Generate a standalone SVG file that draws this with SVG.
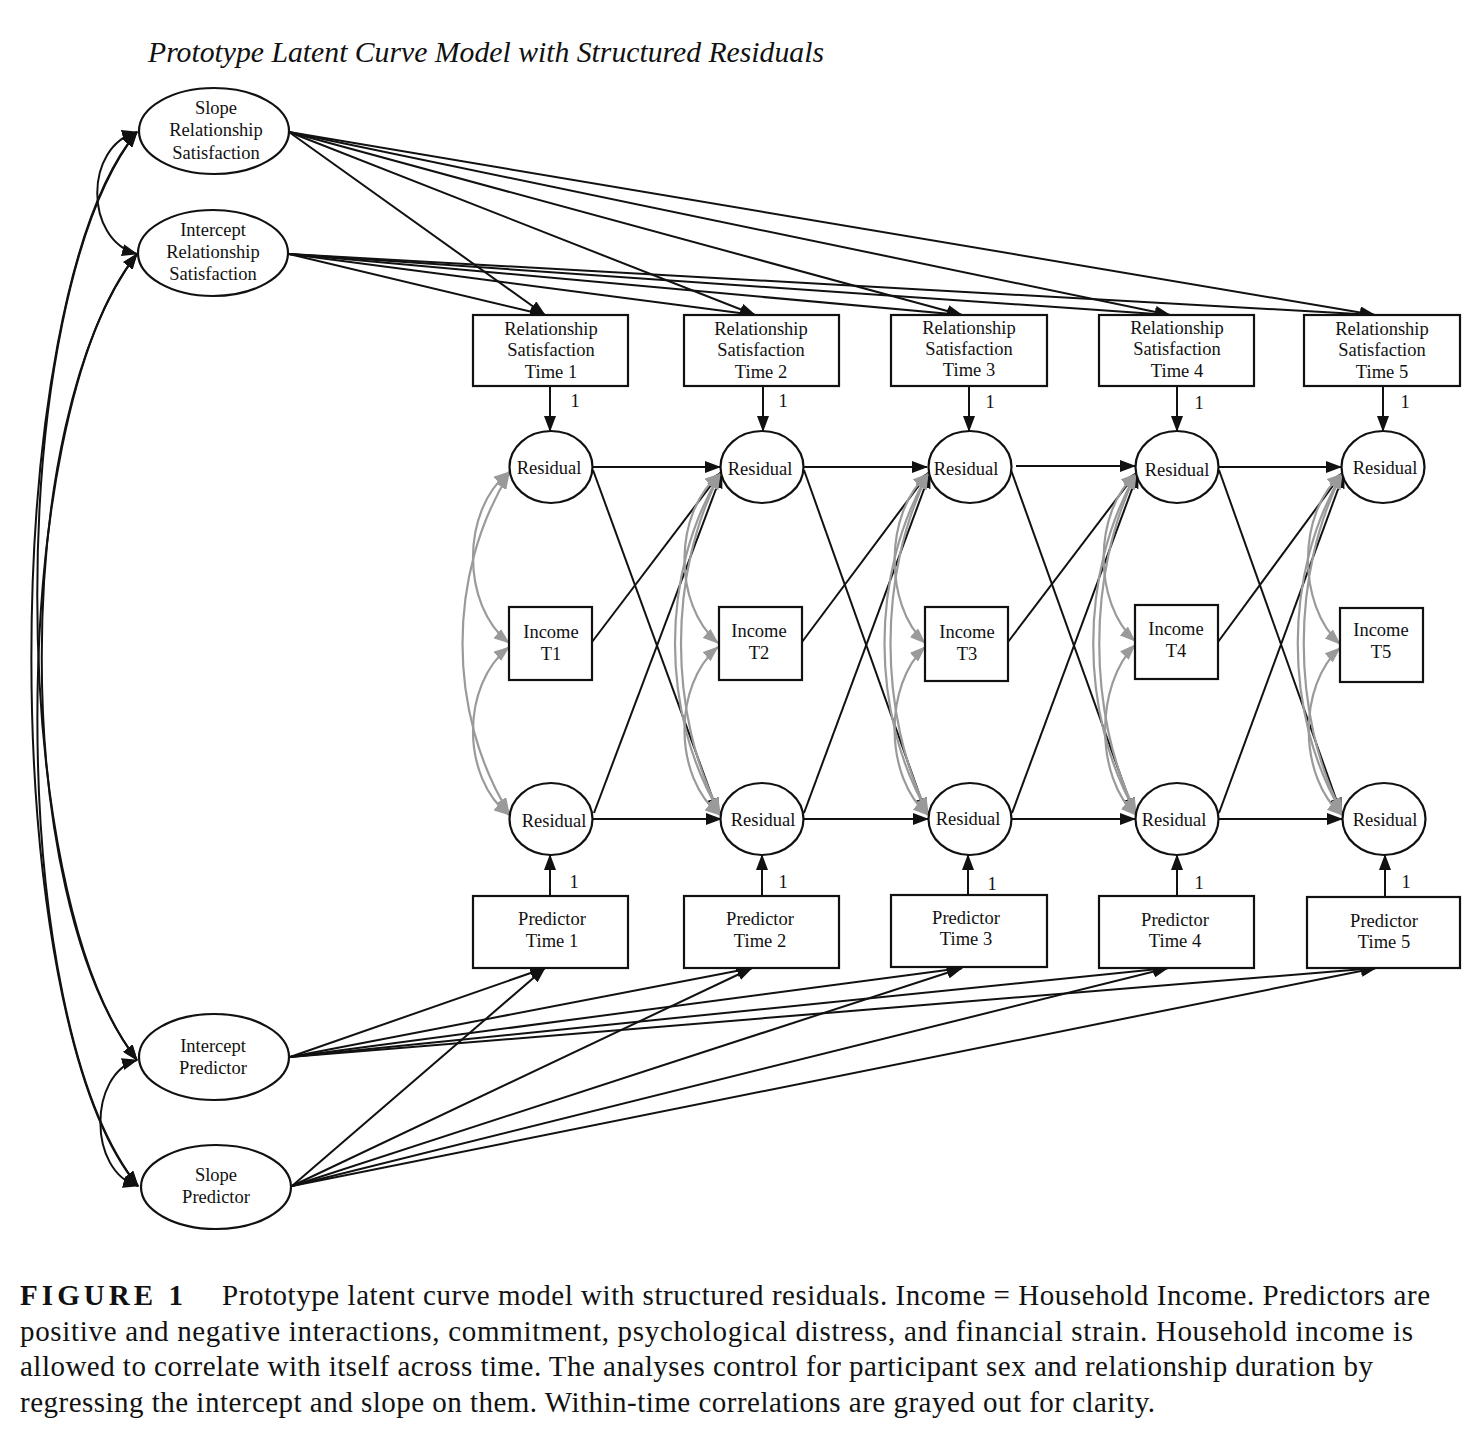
<svg xmlns="http://www.w3.org/2000/svg" width="1476" height="1434" viewBox="0 0 1476 1434">
<style>
  .t { font-family: "Liberation Serif", "Times New Roman", serif; font-size: 18.5px; fill: #111; text-anchor: middle; }
  .n { fill: #fff; stroke: #111; stroke-width: 2.2; }
  .c { fill: none; stroke: #111; stroke-width: 2; }
  .g { fill: none; stroke: #9a9a9a; stroke-width: 2.2; }
  .cap { font-family: "Liberation Serif", "Times New Roman", serif; font-size: 29px; fill: #111; }
</style>
<defs>
  <marker id="ab" markerUnits="userSpaceOnUse" markerWidth="16" markerHeight="12" refX="15" refY="6" orient="auto-start-reverse">
    <path d="M0,0 L16,6 L0,12 z" fill="#111"/>
  </marker>
  <marker id="ag" markerUnits="userSpaceOnUse" markerWidth="16" markerHeight="12" refX="15" refY="6" orient="auto-start-reverse">
    <path d="M0,0 L16,6 L0,12 z" fill="#9a9a9a"/>
  </marker>
</defs>
<rect width="1476" height="1434" fill="#fff"/>

<text x="148" y="62" font-family="Liberation Serif, Times New Roman, serif" font-style="italic" font-size="28.5" fill="#111" textLength="676" lengthAdjust="spacingAndGlyphs">Prototype Latent Curve Model with Structured Residuals</text>

<g id="connectors">
  <!-- growth factor covariances (left) -->
  <path class="c" d="M137,132 C84,146 84,240 137,254" marker-start="url(#ab)" marker-end="url(#ab)"/>
  <path class="c" d="M137,1060 C88,1074 88,1172 138,1186" marker-start="url(#ab)" marker-end="url(#ab)"/>
  <path class="c" d="M137,132 C-4,300 -4,1018 138,1186" marker-start="url(#ab)" marker-end="url(#ab)"/>
  <path class="c" d="M137,132 C4,300 4,890 137,1060" marker-start="url(#ab)" marker-end="url(#ab)"/>
  <path class="c" d="M137,254 C10,420 10,895 137,1060" marker-start="url(#ab)" marker-end="url(#ab)"/>
  <path class="c" d="M137,254 C4,420 4,1020 138,1186" marker-start="url(#ab)" marker-end="url(#ab)"/>

  <!-- slope RS loadings -->
  <line class="c" x1="289" y1="132" x2="545" y2="315" marker-end="url(#ab)"/>
  <line class="c" x1="289" y1="132" x2="755" y2="315" marker-end="url(#ab)"/>
  <line class="c" x1="289" y1="132" x2="962" y2="315" marker-end="url(#ab)"/>
  <line class="c" x1="289" y1="132" x2="1170" y2="315" marker-end="url(#ab)"/>
  <line class="c" x1="289" y1="132" x2="1375" y2="315" marker-end="url(#ab)"/>
  <!-- intercept RS loadings -->
  <line class="c" x1="289" y1="254" x2="545" y2="315" marker-end="url(#ab)"/>
  <line class="c" x1="289" y1="254" x2="755" y2="315" marker-end="url(#ab)"/>
  <line class="c" x1="289" y1="254" x2="962" y2="315" marker-end="url(#ab)"/>
  <line class="c" x1="289" y1="254" x2="1170" y2="315" marker-end="url(#ab)"/>
  <line class="c" x1="289" y1="254" x2="1375" y2="315" marker-end="url(#ab)"/>

  <!-- intercept predictor loadings -->
  <line class="c" x1="290" y1="1057" x2="545" y2="968" marker-end="url(#ab)"/>
  <line class="c" x1="290" y1="1057" x2="752" y2="968" marker-end="url(#ab)"/>
  <line class="c" x1="290" y1="1057" x2="962" y2="968" marker-end="url(#ab)"/>
  <line class="c" x1="290" y1="1057" x2="1168" y2="968" marker-end="url(#ab)"/>
  <line class="c" x1="290" y1="1057" x2="1376" y2="968" marker-end="url(#ab)"/>
  <!-- slope predictor loadings -->
  <line class="c" x1="292" y1="1186" x2="545" y2="968" marker-end="url(#ab)"/>
  <line class="c" x1="292" y1="1186" x2="752" y2="968" marker-end="url(#ab)"/>
  <line class="c" x1="292" y1="1186" x2="962" y2="968" marker-end="url(#ab)"/>
  <line class="c" x1="292" y1="1186" x2="1168" y2="968" marker-end="url(#ab)"/>
  <line class="c" x1="292" y1="1186" x2="1376" y2="968" marker-end="url(#ab)"/>

  <!-- fixed loadings to residuals -->
  <line class="c" x1="550" y1="386" x2="550" y2="431" marker-end="url(#ab)"/>
  <line class="c" x1="763" y1="386" x2="763" y2="431" marker-end="url(#ab)"/>
  <line class="c" x1="969" y1="386" x2="969" y2="431" marker-end="url(#ab)"/>
  <line class="c" x1="1177" y1="386" x2="1177" y2="431" marker-end="url(#ab)"/>
  <line class="c" x1="1383" y1="386" x2="1383" y2="431" marker-end="url(#ab)"/>
  <line class="c" x1="550" y1="896" x2="550" y2="855" marker-end="url(#ab)"/>
  <line class="c" x1="762" y1="896" x2="762" y2="855" marker-end="url(#ab)"/>
  <line class="c" x1="968" y1="895" x2="968" y2="855" marker-end="url(#ab)"/>
  <line class="c" x1="1177" y1="896" x2="1177" y2="855" marker-end="url(#ab)"/>
  <line class="c" x1="1385" y1="897" x2="1385" y2="855" marker-end="url(#ab)"/>

  <!-- autoregressive paths -->
  <line class="c" x1="593" y1="467" x2="720" y2="467" marker-end="url(#ab)"/>
  <line class="c" x1="804" y1="467" x2="927" y2="467" marker-end="url(#ab)"/>
  <line class="c" x1="1016" y1="466" x2="1135" y2="466" marker-end="url(#ab)"/>
  <line class="c" x1="1219" y1="467" x2="1341" y2="467" marker-end="url(#ab)"/>
  <line class="c" x1="593" y1="819" x2="721" y2="819" marker-end="url(#ab)"/>
  <line class="c" x1="804" y1="819" x2="928" y2="819" marker-end="url(#ab)"/>
  <line class="c" x1="1011" y1="819" x2="1135" y2="819" marker-end="url(#ab)"/>
  <line class="c" x1="1219" y1="819" x2="1342" y2="819" marker-end="url(#ab)"/>

  <!-- cross-lagged paths -->
  <line class="c" x1="593" y1="470" x2="718" y2="813" marker-end="url(#ab)"/>
  <line class="c" x1="804" y1="470" x2="926" y2="813" marker-end="url(#ab)"/>
  <line class="c" x1="1011" y1="470" x2="1134" y2="813" marker-end="url(#ab)"/>
  <line class="c" x1="1219" y1="470" x2="1341" y2="813" marker-end="url(#ab)"/>
  <line class="c" x1="594" y1="813" x2="722" y2="473" marker-end="url(#ab)"/>
  <line class="c" x1="804" y1="813" x2="930" y2="473" marker-end="url(#ab)"/>
  <line class="c" x1="1012" y1="813" x2="1138" y2="473" marker-end="url(#ab)"/>
  <line class="c" x1="1219" y1="813" x2="1344" y2="473" marker-end="url(#ab)"/>
  <!-- income to residual -->
  <line class="c" x1="592" y1="642" x2="721" y2="472" marker-end="url(#ab)"/>
  <line class="c" x1="802" y1="642" x2="929" y2="472" marker-end="url(#ab)"/>
  <line class="c" x1="1008" y1="642" x2="1137" y2="472" marker-end="url(#ab)"/>
  <line class="c" x1="1218" y1="642" x2="1343" y2="472" marker-end="url(#ab)"/>

  <!-- within-time correlations (gray) -->
  <g id="within-t1">
    <path class="g" d="M509,472 C461,510 461,605 509,643" marker-start="url(#ag)" marker-end="url(#ag)"/>
    <path class="g" d="M509,647 C461,685 461,777 509,815" marker-start="url(#ag)" marker-end="url(#ag)"/>
    <path class="g" d="M509,474 C447,574 447,713 509,813" marker-start="url(#ag)" marker-end="url(#ag)"/>
  </g>
  <g id="within-t2">
    <path class="g" d="M720,474 C673,512 673,605 718,643" marker-start="url(#ag)" marker-end="url(#ag)"/>
    <path class="g" d="M718,647 C673,685 673,777 720,815" marker-start="url(#ag)" marker-end="url(#ag)"/>
    <path class="g" d="M720,474 C660,574 660,713 720,813" marker-start="url(#ag)" marker-end="url(#ag)"/>
    <path class="g" d="M720,474 C668,574 668,713 720,813" marker-start="url(#ag)" marker-end="url(#ag)"/>
  </g>
  <g id="within-t3">
    <path class="g" d="M928,474 C884,512 884,605 925,643" marker-start="url(#ag)" marker-end="url(#ag)"/>
    <path class="g" d="M925,647 C884,685 884,777 928,815" marker-start="url(#ag)" marker-end="url(#ag)"/>
    <path class="g" d="M928,474 C870,574 870,713 928,813" marker-start="url(#ag)" marker-end="url(#ag)"/>
    <path class="g" d="M928,474 C878,574 878,713 928,813" marker-start="url(#ag)" marker-end="url(#ag)"/>
  </g>
  <g id="within-t4">
    <path class="g" d="M1136,474 C1093,512 1093,603 1135,641" marker-start="url(#ag)" marker-end="url(#ag)"/>
    <path class="g" d="M1135,645 C1095,685 1095,777 1136,815" marker-start="url(#ag)" marker-end="url(#ag)"/>
    <path class="g" d="M1136,474 C1079,574 1079,713 1136,813" marker-start="url(#ag)" marker-end="url(#ag)"/>
    <path class="g" d="M1136,474 C1087,574 1087,713 1136,813" marker-start="url(#ag)" marker-end="url(#ag)"/>
  </g>
  <g id="within-t5">
    <path class="g" d="M1342,474 C1297,512 1297,605 1340,644" marker-start="url(#ag)" marker-end="url(#ag)"/>
    <path class="g" d="M1340,648 C1298,685 1298,777 1342,815" marker-start="url(#ag)" marker-end="url(#ag)"/>
    <path class="g" d="M1342,474 C1283,574 1283,713 1342,813" marker-start="url(#ag)" marker-end="url(#ag)"/>
    <path class="g" d="M1342,474 C1291,574 1291,713 1342,813" marker-start="url(#ag)" marker-end="url(#ag)"/>
  </g>
</g>

<g id="loading-labels" class="t">
  <text x="575" y="407">1</text>
  <text x="783" y="407">1</text>
  <text x="990" y="408">1</text>
  <text x="1199" y="409">1</text>
  <text x="1405" y="408">1</text>
  <text x="574" y="888">1</text>
  <text x="783" y="888">1</text>
  <text x="992" y="890">1</text>
  <text x="1199" y="889">1</text>
  <text x="1406" y="888">1</text>
</g>

<!-- growth factors -->
<g id="slope-rs"><ellipse class="n" cx="214" cy="131" rx="75" ry="43"/>
  <text class="t" x="216" y="114">Slope</text><text class="t" x="216" y="136">Relationship</text><text class="t" x="216" y="159">Satisfaction</text></g>
<g id="intercept-rs"><ellipse class="n" cx="213" cy="253" rx="75" ry="43"/>
  <text class="t" x="213" y="236">Intercept</text><text class="t" x="213" y="258">Relationship</text><text class="t" x="213" y="280">Satisfaction</text></g>
<g id="intercept-pred"><ellipse class="n" cx="214" cy="1057" rx="75" ry="43"/>
  <text class="t" x="213" y="1052">Intercept</text><text class="t" x="213" y="1074">Predictor</text></g>
<g id="slope-pred"><ellipse class="n" cx="216" cy="1187" rx="75" ry="42"/>
  <text class="t" x="216" y="1181">Slope</text><text class="t" x="216" y="1203">Predictor</text></g>

<!-- relationship satisfaction boxes -->
<g id="rs1"><rect class="n" x="473" y="315" width="155" height="71"/>
  <text class="t" x="551" y="335">Relationship</text><text class="t" x="551" y="356">Satisfaction</text><text class="t" x="551" y="378">Time 1</text></g>
<g id="rs2"><rect class="n" x="684" y="315" width="155" height="71"/>
  <text class="t" x="761" y="335">Relationship</text><text class="t" x="761" y="356">Satisfaction</text><text class="t" x="761" y="378">Time 2</text></g>
<g id="rs3"><rect class="n" x="891" y="315" width="156" height="71"/>
  <text class="t" x="969" y="334">Relationship</text><text class="t" x="969" y="355">Satisfaction</text><text class="t" x="969" y="376">Time 3</text></g>
<g id="rs4"><rect class="n" x="1099" y="315" width="155" height="71"/>
  <text class="t" x="1177" y="334">Relationship</text><text class="t" x="1177" y="355">Satisfaction</text><text class="t" x="1177" y="377">Time 4</text></g>
<g id="rs5"><rect class="n" x="1304" y="315" width="156" height="71"/>
  <text class="t" x="1382" y="335">Relationship</text><text class="t" x="1382" y="356">Satisfaction</text><text class="t" x="1382" y="378">Time 5</text></g>

<!-- top residuals -->
<g id="res-rs1"><ellipse class="n" cx="551" cy="467" rx="41.5" ry="36"/><text class="t" x="549" y="474">Residual</text></g>
<g id="res-rs2"><ellipse class="n" cx="762" cy="467" rx="41.5" ry="36"/><text class="t" x="760" y="475">Residual</text></g>
<g id="res-rs3"><ellipse class="n" cx="970" cy="467" rx="41.5" ry="36"/><text class="t" x="966" y="475">Residual</text></g>
<g id="res-rs4"><ellipse class="n" cx="1177" cy="467" rx="41.5" ry="36"/><text class="t" x="1177" y="476">Residual</text></g>
<g id="res-rs5"><ellipse class="n" cx="1383" cy="467" rx="41.5" ry="36"/><text class="t" x="1385" y="474">Residual</text></g>

<!-- income -->
<g id="inc1"><rect class="n" x="509" y="607" width="83" height="73"/><text class="t" x="551" y="638">Income</text><text class="t" x="551" y="660">T1</text></g>
<g id="inc2"><rect class="n" x="719" y="607" width="83" height="73"/><text class="t" x="759" y="637">Income</text><text class="t" x="759" y="659">T2</text></g>
<g id="inc3"><rect class="n" x="925" y="607" width="83" height="74"/><text class="t" x="967" y="638">Income</text><text class="t" x="967" y="660">T3</text></g>
<g id="inc4"><rect class="n" x="1135" y="605" width="83" height="74"/><text class="t" x="1176" y="635">Income</text><text class="t" x="1176" y="657">T4</text></g>
<g id="inc5"><rect class="n" x="1340" y="608" width="83" height="74"/><text class="t" x="1381" y="636">Income</text><text class="t" x="1381" y="658">T5</text></g>

<!-- bottom residuals -->
<g id="res-p1"><ellipse class="n" cx="551" cy="819" rx="41.5" ry="36"/><text class="t" x="554" y="827">Residual</text></g>
<g id="res-p2"><ellipse class="n" cx="762" cy="819" rx="41.5" ry="36"/><text class="t" x="763" y="826">Residual</text></g>
<g id="res-p3"><ellipse class="n" cx="970" cy="819" rx="41.5" ry="36"/><text class="t" x="968" y="825">Residual</text></g>
<g id="res-p4"><ellipse class="n" cx="1177" cy="819" rx="41.5" ry="36"/><text class="t" x="1174" y="826">Residual</text></g>
<g id="res-p5"><ellipse class="n" cx="1384" cy="819" rx="41.5" ry="36"/><text class="t" x="1385" y="826">Residual</text></g>

<!-- predictor boxes -->
<g id="pred1"><rect class="n" x="473" y="896" width="155" height="72"/><text class="t" x="552" y="925">Predictor</text><text class="t" x="552" y="947">Time 1</text></g>
<g id="pred2"><rect class="n" x="684" y="896" width="155" height="72"/><text class="t" x="760" y="925">Predictor</text><text class="t" x="760" y="947">Time 2</text></g>
<g id="pred3"><rect class="n" x="891" y="895" width="156" height="72"/><text class="t" x="966" y="924">Predictor</text><text class="t" x="966" y="945">Time 3</text></g>
<g id="pred4"><rect class="n" x="1099" y="896" width="155" height="72"/><text class="t" x="1175" y="926">Predictor</text><text class="t" x="1175" y="947">Time 4</text></g>
<g id="pred5"><rect class="n" x="1307" y="897" width="153" height="71"/><text class="t" x="1384" y="927">Predictor</text><text class="t" x="1384" y="948">Time 5</text></g>

<!-- caption -->
<g id="caption">
  <text class="cap" x="20" y="1305" font-weight="bold" letter-spacing="4" textLength="167" lengthAdjust="spacing">FIGURE 1</text>
  <text class="cap" x="222" y="1305" textLength="1208" lengthAdjust="spacing">Prototype latent curve model with structured residuals. Income = Household Income. Predictors are</text>
  <text class="cap" x="20" y="1341" textLength="1393" lengthAdjust="spacing">positive and negative interactions, commitment, psychological distress, and financial strain. Household income is</text>
  <text class="cap" x="20" y="1376" textLength="1353" lengthAdjust="spacing">allowed to correlate with itself across time. The analyses control for participant sex and relationship duration by</text>
  <text class="cap" x="20" y="1412" textLength="1135" lengthAdjust="spacing">regressing the intercept and slope on them. Within-time correlations are grayed out for clarity.</text>
</g>
</svg>
